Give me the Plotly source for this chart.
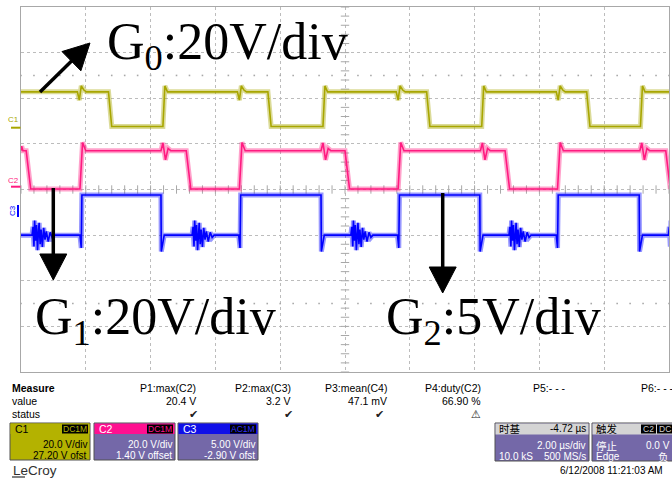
import math
import plotly.graph_objects as go

# ---------------- data (time in divisions 0..10, amplitude in divisions -4..4)
c1_low, c1_high = 1.38, 2.14
c1_fall = [1.35, 3.81, 6.26, 8.73]
c1_rise = [2.19, 4.66, 7.11, 9.56]
c1_glitch = [0.91, 3.38, 5.83, 8.30]
c1_over = 0.13
c1_glitch_dt = [-0.04, -0.01, 0.02, 0.06, 0.10]
c1_glitch_dv = [0.0, -0.18, 0.13, 0.04, 0.0]

c2_low, c2_high = 0.01, 0.85
c2_fall = [0.08, 2.55, 5.00, 7.47, 9.95]
c2_rise = [0.91, 3.37, 5.82, 8.28]
c2_glitch = [2.19, 4.66, 7.12, 9.58]
c2_over = 0.18
c2_glitch_dt = [-0.03, 0.0, 0.04, 0.08, 0.12]
c2_glitch_dv = [0.0, 0.17, -0.20, 0.05, 0.0]

c3_low, c3_high = -1.00, -0.12
c3_rise = [0.93, 3.38, 5.83, 8.28]
c3_fall = [2.16, 4.63, 7.08, 9.54]
c3_burst = [0.17, 2.64, 5.09, 7.53, 9.99]
c3_rise_dip = -1.28
c3_fall_spike = -1.36
burst_dt = [0.0, 0.015, 0.03, 0.04, 0.055, 0.07, 0.085, 0.10, 0.11, 0.125, 0.14,
            0.16, 0.18, 0.20, 0.22, 0.25, 0.28, 0.31, 0.34]
burst_dv = [0.0, 0.18, -0.25, 0.32, -0.12, 0.22, -0.33, 0.10, 0.27, -0.20, 0.12,
            -0.26, 0.16, -0.10, 0.08, -0.14, 0.06, -0.05, 0.0]

trig_pos = 2.64

meas_labels = ["P1:max(C2)", "P2:max(C3)", "P3:mean(C4)", "P4:duty(C2)", "P5:- - -", "P6:- - -"]
meas_values = ["20.4 V", "3.2 V", "47.1 mV", "66.90 %", "", ""]
meas_status = ["\u2714", "\u2714", "\u2714", "\u26a0", "", ""]

ch_names = ["C1", "C2", "C3"]
ch_coupling = ["DC1M", "DC1M", "AC1M"]
ch_vdiv = ["20.0 V/div", "20.0 V/div", "5.00 V/div"]
ch_offset = ["27.20 V ofst", "1.40 V offset", "-2.90 V ofst"]

# ---------------- styling
OLIVE = "#a8a600"
OLIVE_BOX = "#b4b200"
PINK = "#ff1a80"
PINK_HDR = "#ff1090"
BLUE = "#0000ff"
BLUE_HDR = "#1010e8"
PURPLE = "#7468a8"
GRID = "#bcbcbc"

W, H = 672, 480
L, R, T, B = 21, 3, 7, 108
PW = W - L - R
PH = H - T - B


def xp(px):
    return (px - L) / PW


def yp(py):
    return (T + PH - py) / PH


# ---------------- build waveforms from the edge lists
def wave_c1():
    ev = [(t, "g") for t in c1_glitch] + [(t, "f") for t in c1_fall] + [(t, "r") for t in c1_rise]
    ev.sort()
    xs, ys = [0.0], [c1_high]
    for t, k in ev:
        if k == "g":
            for dt, dv in zip(c1_glitch_dt, c1_glitch_dv):
                xs.append(t + dt); ys.append(c1_high + dv)
        elif k == "f":
            xs += [t, t + 0.05]; ys += [c1_high, c1_low]
        else:
            xs += [t, t + 0.03, t + 0.07]; ys += [c1_low, c1_high + c1_over, c1_high]
    xs.append(10.0); ys.append(c1_high)
    return xs, ys


def wave_c2():
    ev = [(t, "g") for t in c2_glitch] + [(t, "f") for t in c2_fall] + [(t, "r") for t in c2_rise]
    ev.sort()
    xs, ys = [0.0, 0.01, 0.03], [c2_high, c2_high + 0.1, c2_high]
    for t, k in ev:
        if k == "g":
            for dt, dv in zip(c2_glitch_dt, c2_glitch_dv):
                xs.append(t + dt); ys.append(c2_high + dv)
        elif k == "f":
            xs += [t, t + 0.07]; ys += [c2_high, c2_low]
        else:
            xs += [t, t + 0.04, t + 0.09]; ys += [c2_low, c2_high + c2_over, c2_high]
    xs.append(10.0); ys.append(c2_high if ev[-1][1] != "f" else c2_low)
    return xs, ys


def wave_c3():
    ev = [(t, "b") for t in c3_burst] + [(t, "f") for t in c3_fall] + [(t, "r") for t in c3_rise]
    ev.sort()
    xs, ys = [0.0], [c3_low]
    for t, k in ev:
        if k == "b":
            for dt, dv in zip(burst_dt, burst_dv):
                xs.append(t + dt); ys.append(c3_low + dv)
        elif k == "f":
            xs += [t, t + 0.005, t + 0.05]; ys += [c3_high, c3_fall_spike, c3_low]
        else:
            xs += [t - 0.02, t, t + 0.01]; ys += [c3_low, c3_rise_dip, c3_high]
    xs.append(10.0); ys.append(c3_low)
    return xs, ys


fig = go.Figure()

# graticule tick marks on the centre axes and dotted rows
tk = [i * 0.2 for i in range(41)]
tkx = [i * 0.2 for i in range(51)]
fig.add_trace(go.Scatter(x=[5] * len(tk), y=[v - 4 for v in tk], mode="markers",
                         marker=dict(symbol="line-ew", size=6, line=dict(color="#a8a8a8", width=1)),
                         hoverinfo="skip", showlegend=False))
fig.add_trace(go.Scatter(x=tkx, y=[0] * len(tkx), mode="markers",
                         marker=dict(symbol="line-ns", size=6, line=dict(color="#a8a8a8", width=1)),
                         hoverinfo="skip", showlegend=False))
for yy in (2.5, -2.5):
    fig.add_trace(go.Scatter(x=tkx, y=[yy] * len(tkx), mode="markers",
                             marker=dict(symbol="square", size=1.6, color="#a8a8a8"),
                             hoverinfo="skip", showlegend=False))

for fn, col in ((wave_c1, OLIVE), (wave_c2, PINK), (wave_c3, BLUE)):
    xs, ys = fn()
    fig.add_trace(go.Scatter(x=xs, y=ys, mode="lines", line=dict(color=col, width=5),
                             opacity=0.4, hoverinfo="skip", showlegend=False))
    fig.add_trace(go.Scatter(x=xs, y=ys, mode="lines", line=dict(color=col, width=1.6),
                             hoverinfo="skip", showlegend=False))

# trigger marker
fig.add_trace(go.Scatter(x=[trig_pos], y=[-4.11], mode="markers", cliponaxis=False,
                         marker=dict(symbol="triangle-up", size=8, color=PINK),
                         hoverinfo="skip", showlegend=False))

ann = []
shapes = []

SANS = "Liberation Sans, Noto Sans CJK SC, Arial, sans-serif"
SERIF = "Liberation Serif, Times New Roman, serif"


def text(s, x, y, anchor="left", size=10, color="black", family=SANS, angle=0):
    ann.append(dict(text=s, x=xp(x), y=yp(y), xref="paper", yref="paper",
                    xanchor=anchor, yanchor="middle", showarrow=False, textangle=angle,
                    font=dict(size=size, color=color, family=family)))


def rect(x0, y0, x1, y1, fill, line=None):
    shapes.append(dict(type="rect", xref="paper", yref="paper",
                       x0=xp(x0), x1=xp(x1), y0=yp(y1), y1=yp(y0), fillcolor=fill,
                       line=dict(width=1 if line else 0, color=line or fill), layer="above"))


def arrow(tipx, tipy, tailx, taily, head_len=26, head_w=27, lw=3.5):
    dx, dy = tipx - tailx, tipy - taily
    n = math.hypot(dx, dy)
    ux, uy = dx / n, dy / n
    bx, by = tipx - head_len * ux, tipy - head_len * uy
    px_, py_ = -uy, ux
    shapes.append(dict(type="line", xref="paper", yref="paper",
                       x0=xp(tailx), y0=yp(taily), x1=xp(bx + 2 * ux), y1=yp(by + 2 * uy),
                       line=dict(color="black", width=lw)))
    c1x, c1y = bx + head_w / 2 * px_, by + head_w / 2 * py_
    c2x, c2y = bx - head_w / 2 * px_, by - head_w / 2 * py_
    path = "M{:.5f},{:.5f} L{:.5f},{:.5f} L{:.5f},{:.5f} Z".format(
        xp(tipx), yp(tipy), xp(c1x), yp(c1y), xp(c2x), yp(c2y))
    shapes.append(dict(type="path", xref="paper", yref="paper", path=path,
                       fillcolor="black", line=dict(color="black", width=1)))


# big labels
text("G<sub>0</sub>:20V/div", 105, 45, size=52, family=SERIF)
text("G<sub>1</sub>:20V/div", 33, 320, size=52, family=SERIF)
text("G<sub>2</sub>:5V/div", 384, 320, size=52, family=SERIF)
arrow(90, 43, 40, 92)
arrow(53.3, 280, 53.3, 188)
arrow(442.7, 293, 442.7, 193)

# channel ground markers
text("C1", 13, 120, anchor="center", size=8, color=OLIVE)
text("C2", 13, 180, anchor="center", size=8, color=PINK)
text("C3", 13, 211, anchor="center", size=8, color=BLUE, angle=-90)
shapes.append(dict(type="line", xref="paper", yref="paper", x0=xp(11), x1=xp(20.5),
                   y0=yp(127.7), y1=yp(127.7), line=dict(color=OLIVE, width=2)))
shapes.append(dict(type="line", xref="paper", yref="paper", x0=xp(11), x1=xp(20.5),
                   y0=yp(186.7), y1=yp(186.7), line=dict(color=PINK, width=2)))
shapes.append(dict(type="line", xref="paper", yref="paper", x0=xp(18), x1=xp(18),
                   y0=yp(205), y1=yp(217), line=dict(color=BLUE, width=2)))

# measure table
text("<b>Measure</b>", 10, 388, size=10.5)
text("value", 10, 401, size=10.5)
text("status", 10, 414, size=10.5)
meas_right = [198, 293, 389, 483, 568, 676]
meas_stat_x = [193, 288, 379, 476, 0, 0]
for lab, val, st, xr, xs_ in zip(meas_labels, meas_values, meas_status, meas_right, meas_stat_x):
    text(lab, xr, 388, anchor="right", size=10.5)
    if val:
        text(val, xr, 401, anchor="right", size=10.5)
    if st:
        text(st, xs_, 414, anchor="center", size=11, color="#202020",
             family="DejaVu Sans, sans-serif")

# channel boxes
box_x = [(10, 90), (94, 175), (178, 258)]
hdr_cols = [OLIVE_BOX, PINK_HDR, BLUE_HDR]
badge_txt = [OLIVE_BOX, PINK_HDR, "#3030ff"]
for i, (x0, x1) in enumerate(box_x):
    body = OLIVE_BOX if i == 0 else PURPLE
    rect(x0, 423, x1, 460, body, "#505050")
    rect(x0 + 0.5, 423.5, x1 - 0.5, 434, hdr_cols[i])
    rect(x1 - 28, 424.5, x1 - 2, 433.5, "black")
    tc = "black" if i == 0 else "white"
    text(ch_names[i], x0 + 3, 429, size=10.5, color=tc)
    text(ch_coupling[i], x1 - 15, 429, anchor="center", size=8.5, color=badge_txt[i])
    text(ch_vdiv[i], x1 - 1, 444, anchor="right", size=10, color=tc)
    text(ch_offset[i], x1 - 1, 455.5, anchor="right", size=10, color=tc)

# timebase box
rect(495, 423, 589, 461, PURPLE, "#505050")
rect(495.5, 423.5, 588.5, 434.5, "#d4d4d4")
text("时基", 497, 429, size=10.5)
text("-4.72 µs", 588, 429, anchor="right", size=10)
text("2.00 µs/div", 588, 445.5, anchor="right", size=10, color="white")
text("10.0 kS", 497, 456.5, size=10, color="white")
text("500 MS/s", 588, 456.5, anchor="right", size=10, color="white")

# trigger box
rect(592, 423, 680, 461, PURPLE, "#505050")
rect(592.5, 423.5, 680, 434.5, "#d4d4d4")
text("触发", 594, 429, size=10.5)
rect(641, 424.5, 656, 433.5, "black")
rect(657, 424.5, 672, 433.5, "black")
text("C2", 648.5, 429, anchor="center", size=8.5, color="#d0d0d0")
text("DC", 664.5, 429, anchor="center", size=8.5, color="#d0d0d0")
text("停止", 594, 445.5, size=10.5, color="white")
text("0.0 V", 672, 445.5, anchor="right", size=10, color="white")
text("Edge", 594, 456.5, size=10, color="white")
text("负", 671, 456.5, anchor="right", size=10.5, color="white")

text("6/12/2008 11:21:03 AM", 665, 470, anchor="right", size=10)
text("LeCroy", 11, 470, size=13.5, color="#303030")
shapes.append(dict(type="line", xref="paper", yref="paper", x0=xp(12), x1=xp(25),
                   y0=yp(477), y1=yp(477), line=dict(color="#303030", width=1.2)))

axis_common = dict(showgrid=True, gridcolor=GRID, griddash="dot", gridwidth=1,
                   zeroline=False, showticklabels=False, ticks="", showline=True,
                   linecolor="#a8a8a8", linewidth=1, mirror=True, fixedrange=True)

fig.update_layout(
    width=W, height=H,
    margin=dict(l=L, r=R, t=T, b=B, pad=0),
    paper_bgcolor="white", plot_bgcolor="white",
    xaxis=dict(range=[0, 10], dtick=1, tick0=0, **axis_common),
    yaxis=dict(range=[-4, 4], dtick=1, tick0=-4, **axis_common),
    annotations=ann, shapes=shapes, showlegend=False,
)

fig.write_html("out.html")
